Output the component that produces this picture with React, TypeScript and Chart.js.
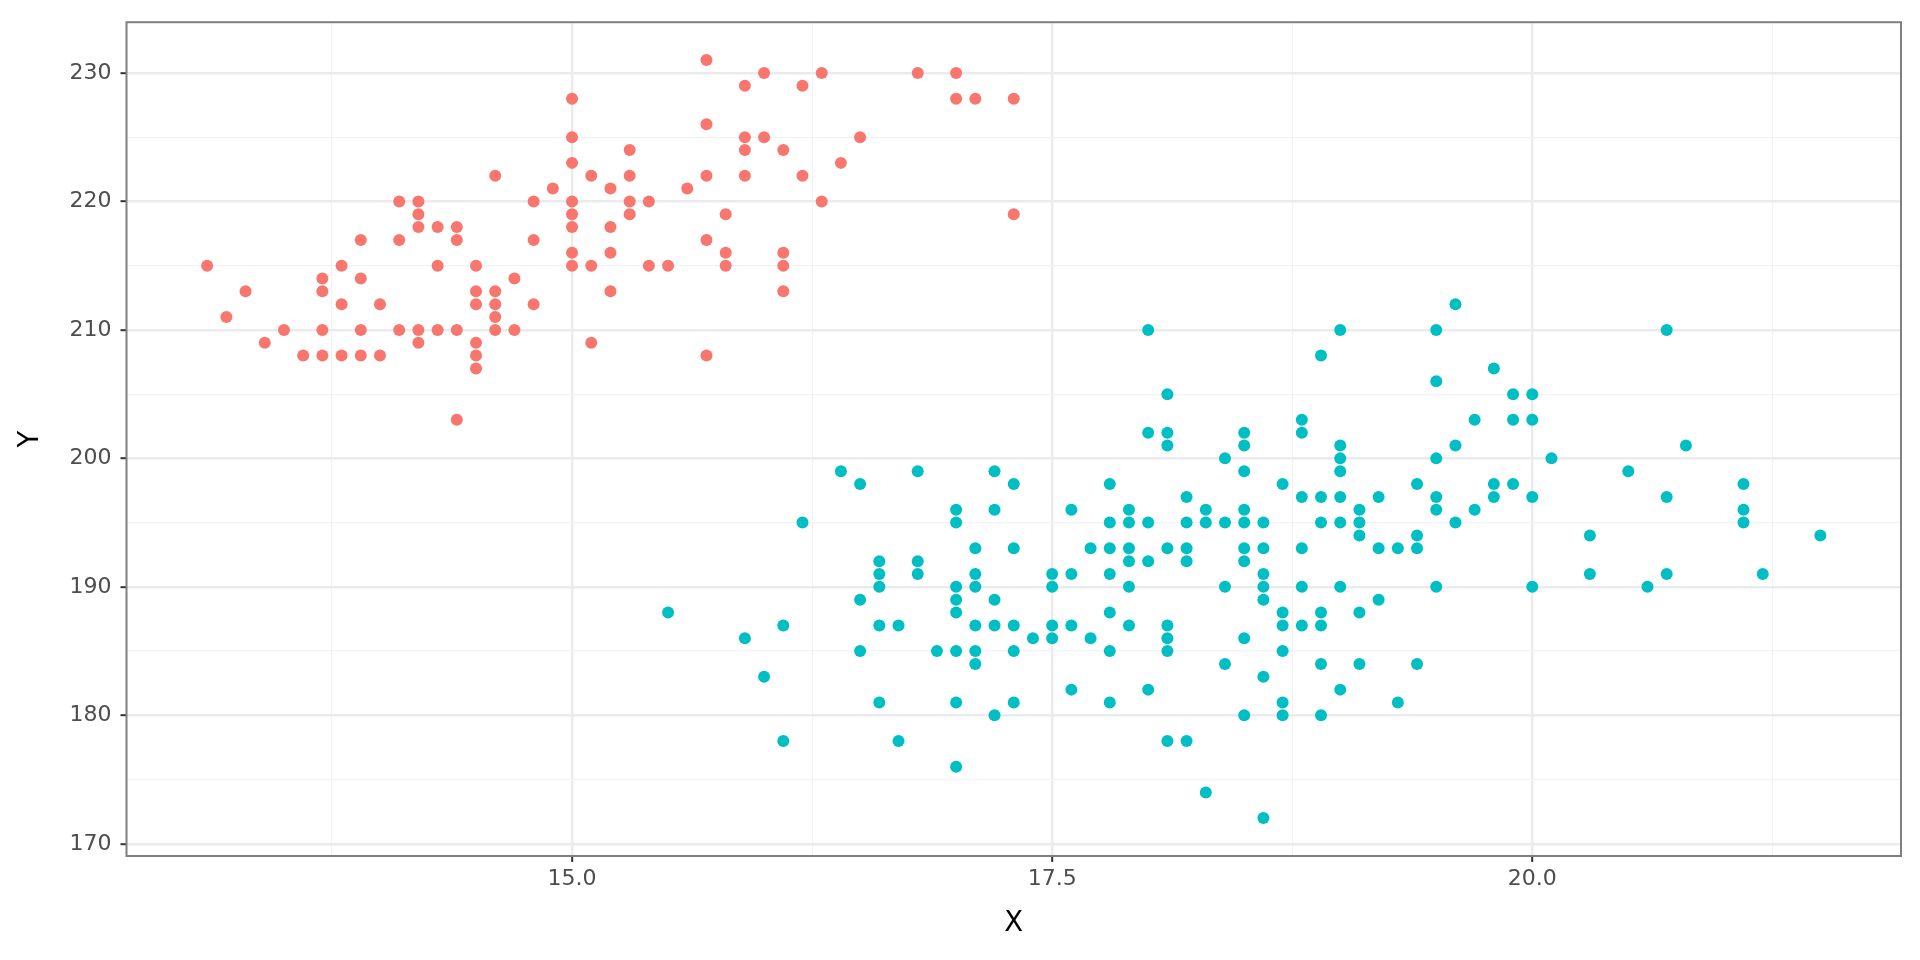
import React, { useEffect, useRef } from "react";
import { Chart, registerables } from "chart.js";

Chart.register(...registerables);

// Red series (bill depth, flipper length)
const gentooPoints: [number, number][] = [
  [13.1, 215], [13.2, 211], [13.3, 213], [13.4, 209], [13.5, 210], [13.6, 208],
  [13.7, 214], [13.7, 213], [13.7, 210], [13.7, 208],
  [13.8, 215], [13.8, 212], [13.8, 208],
  [13.9, 217], [13.9, 214], [13.9, 210], [13.9, 208],
  [14.0, 212], [14.0, 208],
  [14.1, 220], [14.1, 217], [14.1, 210],
  [14.2, 220], [14.2, 219], [14.2, 218], [14.2, 210], [14.2, 209],
  [14.3, 218], [14.3, 215], [14.3, 210],
  [14.4, 218], [14.4, 217], [14.4, 210], [14.4, 203],
  [14.5, 215], [14.5, 213], [14.5, 212], [14.5, 209], [14.5, 208], [14.5, 207],
  [14.6, 222], [14.6, 213], [14.6, 212], [14.6, 211], [14.6, 210],
  [14.7, 214], [14.7, 210],
  [14.8, 220], [14.8, 217], [14.8, 212],
  [14.9, 221],
  [15.0, 228], [15.0, 225], [15.0, 223], [15.0, 220], [15.0, 219], [15.0, 218], [15.0, 216], [15.0, 215],
  [15.1, 222], [15.1, 215], [15.1, 209],
  [15.2, 221], [15.2, 218], [15.2, 216], [15.2, 213],
  [15.3, 224], [15.3, 222], [15.3, 220], [15.3, 219],
  [15.4, 220], [15.4, 215],
  [15.5, 215],
  [15.6, 221],
  [15.7, 231], [15.7, 226], [15.7, 222], [15.7, 217], [15.7, 208],
  [15.8, 219], [15.8, 216], [15.8, 215],
  [15.9, 229], [15.9, 225], [15.9, 224], [15.9, 222],
  [16.0, 230], [16.0, 225],
  [16.1, 224], [16.1, 216], [16.1, 215], [16.1, 213],
  [16.2, 229], [16.2, 222],
  [16.3, 230], [16.3, 220],
  [16.4, 223],
  [16.5, 225],
  [16.8, 230],
  [17.0, 230], [17.0, 228],
  [17.1, 228],
  [17.3, 228], [17.3, 219],
];

// Cyan series (bill depth, flipper length)
const otherPoints: [number, number][] = [
  [15.5, 188], [15.9, 186], [16.0, 183], [16.1, 187], [16.1, 178], [16.2, 195], [16.4, 199],
  [16.5, 198], [16.5, 189], [16.5, 185],
  [16.6, 192], [16.6, 191], [16.6, 190], [16.6, 187], [16.6, 181],
  [16.7, 187], [16.7, 178],
  [16.8, 199], [16.8, 192], [16.8, 191],
  [16.9, 185],
  [17.0, 196], [17.0, 195], [17.0, 190], [17.0, 189], [17.0, 188], [17.0, 185], [17.0, 181], [17.0, 176],
  [17.1, 193], [17.1, 191], [17.1, 190], [17.1, 187], [17.1, 185], [17.1, 184],
  [17.2, 199], [17.2, 196], [17.2, 189], [17.2, 187], [17.2, 180],
  [17.3, 198], [17.3, 193], [17.3, 187], [17.3, 185], [17.3, 181],
  [17.4, 186],
  [17.5, 191], [17.5, 190], [17.5, 187], [17.5, 186],
  [17.6, 196], [17.6, 191], [17.6, 187], [17.6, 182],
  [17.7, 193], [17.7, 186],
  [17.8, 198], [17.8, 195], [17.8, 193], [17.8, 191], [17.8, 188], [17.8, 185], [17.8, 181],
  [17.9, 196], [17.9, 195], [17.9, 193], [17.9, 192], [17.9, 190], [17.9, 187],
  [18.0, 210], [18.0, 202], [18.0, 195], [18.0, 192], [18.0, 182],
  [18.1, 205], [18.1, 202], [18.1, 201], [18.1, 193], [18.1, 187], [18.1, 186], [18.1, 185], [18.1, 178],
  [18.2, 197], [18.2, 195], [18.2, 193], [18.2, 192], [18.2, 178],
  [18.3, 196], [18.3, 195], [18.3, 174],
  [18.4, 200], [18.4, 195], [18.4, 190], [18.4, 184],
  [18.5, 202], [18.5, 201], [18.5, 199], [18.5, 196], [18.5, 195], [18.5, 193], [18.5, 192], [18.5, 186], [18.5, 180],
  [18.6, 195], [18.6, 193], [18.6, 191], [18.6, 190], [18.6, 189], [18.6, 183], [18.6, 172],
  [18.7, 198], [18.7, 188], [18.7, 187], [18.7, 185], [18.7, 181], [18.7, 180],
  [18.8, 203], [18.8, 202], [18.8, 197], [18.8, 193], [18.8, 190], [18.8, 187],
  [18.9, 208], [18.9, 197], [18.9, 195], [18.9, 188], [18.9, 187], [18.9, 184], [18.9, 180],
  [19.0, 210], [19.0, 201], [19.0, 200], [19.0, 199], [19.0, 197], [19.0, 195], [19.0, 190], [19.0, 182],
  [19.1, 196], [19.1, 195], [19.1, 194], [19.1, 188], [19.1, 184],
  [19.2, 197], [19.2, 193], [19.2, 189],
  [19.3, 193], [19.3, 181],
  [19.4, 198], [19.4, 194], [19.4, 193], [19.4, 184],
  [19.5, 210], [19.5, 206], [19.5, 200], [19.5, 197], [19.5, 196], [19.5, 190],
  [19.6, 212], [19.6, 201], [19.6, 195],
  [19.7, 203], [19.7, 196],
  [19.8, 207], [19.8, 198], [19.8, 197],
  [19.9, 205], [19.9, 203], [19.9, 198],
  [20.0, 205], [20.0, 203], [20.0, 197], [20.0, 190],
  [20.1, 200],
  [20.3, 194], [20.3, 191],
  [20.5, 199],
  [20.6, 190],
  [20.7, 210], [20.7, 197], [20.7, 191],
  [20.8, 201],
  [21.1, 198], [21.1, 196], [21.1, 195],
  [21.2, 191],
  [21.5, 194],
];

const xMajorTicks = [15, 17.5, 20];
const xMinorTicks = [13.75, 16.25, 18.75, 21.25];
const yMajorTicks = [170, 180, 190, 200, 210, 220, 230];
const yMinorTicks = [175, 185, 195, 205, 215, 225];
const xLimits = [12.68, 21.92];
const yLimits = [169.05, 233.95];
const xTitle = "X";
const yTitle = "Y";

const FONT = "DejaVu Sans";

const panelBorder = {
  id: "panelBorder",
  afterDatasetsDraw(chart: any) {
    const { ctx, chartArea } = chart;
    ctx.save();
    ctx.strokeStyle = "#7f7f7f";
    ctx.lineWidth = 2;
    ctx.strokeRect(
      chartArea.left,
      chartArea.top,
      chartArea.right - chartArea.left,
      chartArea.bottom - chartArea.top
    );
    ctx.restore();
  },
};

function gridFor(major: number[]) {
  const isMajor = (v: any) => v !== undefined && major.includes(v);
  return {
    color: (c: any) => (isMajor(c.tick?.value) ? "#EBEBEB" : "#F3F3F3"),
    lineWidth: (c: any) => (isMajor(c.tick?.value) ? 2.4 : 1.2),
    tickColor: (c: any) => (isMajor(c.tick?.value) ? "#333333" : "rgba(0,0,0,0)"),
    tickWidth: 2,
    tickLength: 6,
    drawTicks: true,
    drawOnChartArea: true,
  };
}

export default function App() {
  const ref = useRef<HTMLCanvasElement>(null);

  useEffect(() => {
    document.body.style.margin = "0";
    const canvas = ref.current;
    if (!canvas) return;
    const chart = new Chart(canvas, {
      type: "scatter",
      data: {
        datasets: [
          {
            label: "A",
            data: gentooPoints.map(([x, y]) => ({ x, y })),
            backgroundColor: "#F8766D",
            borderWidth: 0,
            pointRadius: 6,
            pointHoverRadius: 6,
          },
          {
            label: "B",
            data: otherPoints.map(([x, y]) => ({ x, y })),
            backgroundColor: "#00BFC4",
            borderWidth: 0,
            pointRadius: 6,
            pointHoverRadius: 6,
          },
        ],
      },
      options: {
        animation: false,
        responsive: false,
        devicePixelRatio: 1,
        layout: { padding: { top: 19.5, right: 19, bottom: 0, left: 0 } },
        plugins: {
          legend: { display: false },
          tooltip: { enabled: false },
        },
        scales: {
          x: {
            type: "linear",
            min: xLimits[0],
            max: xLimits[1],
            afterBuildTicks: (scale: any) => {
              scale.ticks = [...xMinorTicks, ...xMajorTicks]
                .sort((a, b) => a - b)
                .map((v) => ({ value: v }));
            },
            afterFit: (scale: any) => {
              scale.height = 104;
            },
            ticks: {
              autoSkip: false,
              maxRotation: 0,
              minRotation: 0,
              padding: 4,
              color: "#4D4D4D",
              font: { family: FONT, size: 22 },
              callback: (v: any) => (xMajorTicks.includes(v) ? Number(v).toFixed(1) : ""),
            },
            grid: gridFor(xMajorTicks) as any,
            border: { display: false },
            title: {
              display: true,
              text: xTitle,
              color: "#000000",
              font: { family: FONT, size: 27.5 },
              padding: { top: 0, bottom: 20 },
            },
          },
          y: {
            type: "linear",
            min: yLimits[0],
            max: yLimits[1],
            afterBuildTicks: (scale: any) => {
              scale.ticks = [...yMinorTicks, ...yMajorTicks]
                .sort((a, b) => a - b)
                .map((v) => ({ value: v }));
            },
            afterFit: (scale: any) => {
              scale.width = 126.5;
            },
            ticks: {
              autoSkip: false,
              padding: 9,
              color: "#4D4D4D",
              font: { family: FONT, size: 22 },
              callback: (v: any) => (yMajorTicks.includes(v) ? String(v) : ""),
            },
            grid: gridFor(yMajorTicks) as any,
            border: { display: false },
            title: {
              display: true,
              text: yTitle,
              color: "#000000",
              font: { family: FONT, size: 27.5 },
              padding: { top: 14.5, bottom: 0 },
            },
          },
        },
      },
      plugins: [panelBorder],
    });
    return () => chart.destroy();
  }, []);

  return (
    <div style={{ width: 1920, height: 960, overflow: "hidden", background: "#ffffff" }}>
      <canvas
        ref={ref}
        width={1920}
        height={960}
        style={{ display: "block", width: 1920, height: 960 }}
      />
    </div>
  );
}
